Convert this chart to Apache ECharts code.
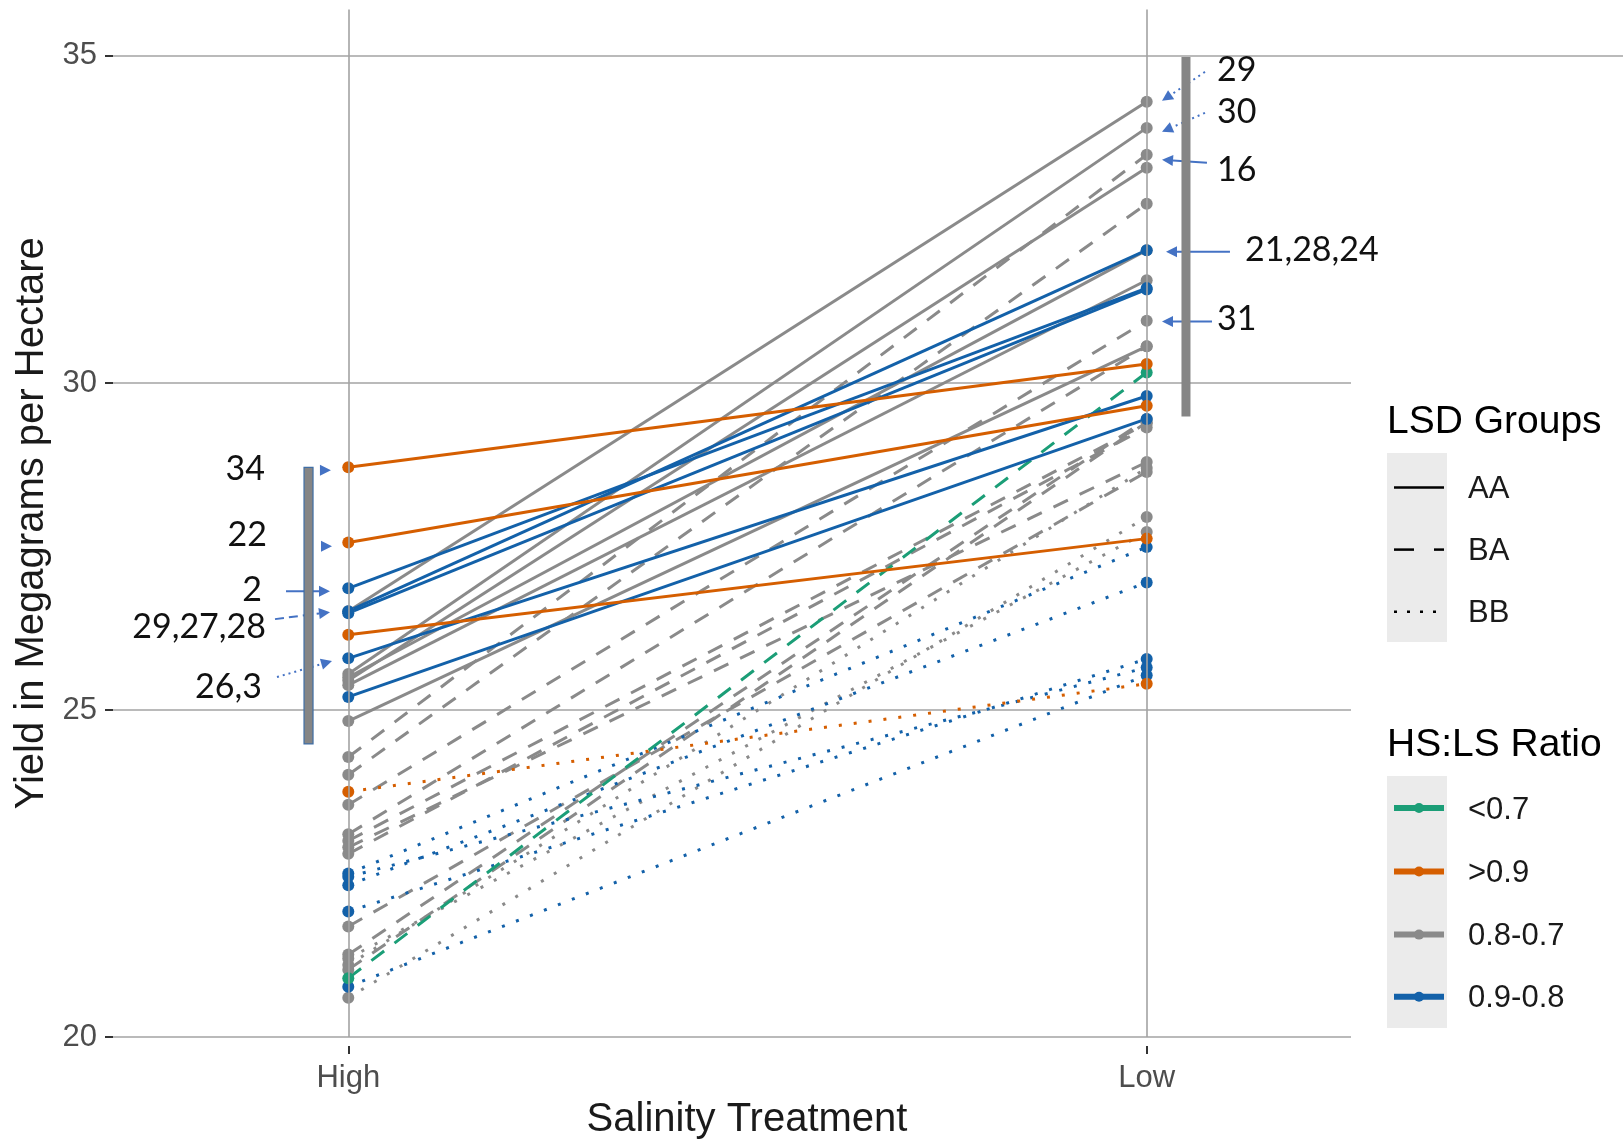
<!DOCTYPE html>
<html><head><meta charset="utf-8">
<script src="https://cdn.jsdelivr.net/npm/echarts@6/dist/echarts.min.js"></script>
<style>html,body{margin:0;padding:0;background:#fff}#c{width:1623px;height:1145px}</style>
</head><body><div id="c"></div>
<script>
// ---------------- data ----------------
const categories = ['High', 'Low'];
const yTicks = [20, 25, 30, 35];
const ratioLevels = ['<0.7', '>0.9', '0.8-0.7', '0.9-0.8'];
const lsdLevels = ['AA', 'BA', 'BB'];

// one entry per genotype line (drawn in this order)
const highYield = [
  26.51, 25.55, 25.45, 25.38, 24.83, 25.50,
  24.28, 24.01, 23.55, 23.10, 23.00, 22.90, 22.80, 21.69, 21.26, 21.03,
  20.60, 21.10, 21.20,
  22.50, 22.32, 21.92, 22.45, 20.77,
  23.75,
  20.90,
  26.86, 26.51, 26.48, 25.79, 25.20,
  28.71, 27.56, 26.15
];
const lowYield = [
  34.30, 33.90, 33.29, 31.57, 30.56, 32.03,
  33.49, 32.74, 30.95, 30.56, 29.38, 28.79, 29.32, 28.64, 29.45, 29.40,
  27.95, 28.70, 27.72,
  27.49, 26.95, 25.78, 25.65, 25.53,
  25.40,
  30.16,
  31.45, 32.03, 31.43, 29.80, 29.45,
  30.29, 29.65, 27.62
];
const ratioGroup = [
  '0.8-0.7','0.8-0.7','0.8-0.7','0.8-0.7','0.8-0.7','0.8-0.7',
  '0.8-0.7','0.8-0.7','0.8-0.7','0.8-0.7','0.8-0.7','0.8-0.7','0.8-0.7','0.8-0.7','0.8-0.7','0.8-0.7',
  '0.8-0.7','0.8-0.7','0.8-0.7',
  '0.9-0.8','0.9-0.8','0.9-0.8','0.9-0.8','0.9-0.8',
  '>0.9',
  '<0.7',
  '0.9-0.8','0.9-0.8','0.9-0.8','0.9-0.8','0.9-0.8',
  '>0.9','>0.9','>0.9'
];
const lsdGroup = [
  'AA','AA','AA','AA','AA','AA',
  'BA','BA','BA','BA','BA','BA','BA','BA','BA','BA',
  'BB','BB','BB',
  'BB','BB','BB','BB','BB',
  'BB',
  'BA',
  'AA','AA','AA','AA','AA',
  'AA','AA','AA'
];

// annotations (in data units of the chart)
const annoLabels = [
  ['34', 0.8957, 28.679, 'right'],
  ['22', 0.8982, 27.672, 'right'],
  ['2', 0.8919, 26.832, 'right'],
  ['29,27,28', 0.8969, 26.267, 'right'],
  ['26,3', 0.8919, 25.351, 'right'],
  ['29', 2.0881, 34.786, 'left'],
  ['30', 2.0881, 34.145, 'left'],
  ['16', 2.0881, 33.260, 'left'],
  ['21,28,24', 2.1231, 32.038, 'left'],
  ['31', 2.0881, 30.985, 'left']
];
const annoArrows = [
  [0.966, 28.664, 0.9783, 28.664, 'solid'],
  [0.966, 27.504, 0.9796, 27.504, 'solid'],
  [0.9220, 26.817, 0.9771, 26.817, 'solid'],
  [0.9082, 26.389, 0.9771, 26.496, 'dashed'],
  [0.9107, 25.504, 0.9796, 25.748, 'dotted'],
  [2.0730, 34.756, 2.0192, 34.313, 'dotted'],
  [2.0730, 34.130, 2.0192, 33.840, 'dotted'],
  [2.0755, 33.366, 2.0192, 33.412, 'solid'],
  [2.1043, 32.008, 2.0242, 32.008, 'solid'],
  [2.0818, 30.939, 2.0192, 30.939, 'solid']
];
const lsdBars = [
  [0.9502, 24.481, 28.710, '#3f6ea5'],
  [2.0492, 29.489, 34.985, null]
];

// ---------------- styles ----------------
const ratioColor = {'<0.7': '#1b9e77', '>0.9': '#d55e00', '0.8-0.7': '#8a8a8a', '0.9-0.8': '#1361a9'};
const lsdDash = {'AA': 'solid', 'BA': [16, 13], 'BB': [3, 12]};
const xMin = 0.7053, xMax = 2.2559, yMin = 20, yMax = 35.71;
const sans = '"Liberation Sans", Arial, sans-serif';
const gridColor = '#a3a3a3';

const series = highYield.map((h, i) => {
  const c = ratioColor[ratioGroup[i]];
  return {
    type: 'line', name: ratioGroup[i],
    data: [[1, h], [2, lowYield[i]]],
    symbol: 'circle', symbolSize: 12, showSymbol: true,
    lineStyle: {color: c, width: 3, type: lsdDash[lsdGroup[i]]},
    itemStyle: {color: c},
    emphasis: {disabled: true}, silent: true, z: 3
  };
});
// vertical grid lines at the two treatments
series.unshift({
  type: 'scatter', data: categories.map((c, i) => [i + 1, yMin]), symbolSize: 0, silent: true, z: 1,
  markLine: {
    symbol: 'none', silent: true, animation: false, label: {show: false},
    lineStyle: {color: gridColor, width: 1.6, type: 'solid'},
    data: categories.map((c, i) => ({xAxis: i + 1}))
  }
});

const chart = echarts.init(document.getElementById('c'));
chart.setOption({
  animation: false,
  backgroundColor: '#ffffff',
  grid: {left: 113, right: 272, top: 9.5, bottom: 106.5},
  xAxis: {
    type: 'value', min: xMin, max: xMax, offset: 9,
    name: 'Salinity Treatment', nameLocation: 'middle', nameGap: 54,
    nameTextStyle: {fontFamily: sans, fontSize: 40, color: '#1a1a1a', padding: [0, 0, 0, 30]},
    axisLine: {show: false},
    axisTick: {show: true, length: 8, customValues: [1, 2], lineStyle: {color: '#333', width: 2}},
    axisLabel: {customValues: [1, 2], margin: 17, fontFamily: sans, fontSize: 31, color: '#4d4d4d',
      formatter: v => categories[Math.round(v) - 1] || ''},
    splitLine: {show: false}
  },
  yAxis: {
    type: 'value', min: yMin, max: yMax, interval: 5,
    name: 'Yield in Megagrams per Hectare', nameLocation: 'middle', nameGap: 58,
    nameTextStyle: {fontFamily: sans, fontSize: 40, color: '#1a1a1a'},
    axisLine: {show: false},
    axisTick: {show: true, length: 8, customValues: yTicks, lineStyle: {color: '#333', width: 2}},
    axisLabel: {customValues: yTicks, margin: 16, fontFamily: sans, fontSize: 31, color: '#4d4d4d',
      formatter: v => (yTicks.indexOf(v) >= 0 ? String(v) : '')},
    splitLine: {show: true, showMaxLine: false, lineStyle: {color: gridColor, width: 1.5}}
  },
  series: series
});

// ---------------- annotations & legends ----------------
const P = (x, y) => chart.convertToPixel({gridIndex: 0}, [x, y]);
const g = [];
const blue = '#4472c4';
const dashMap = {solid: null, dashed: [9, 5], dotted: [2, 4]};

// the top (35) grid line runs across the whole picture
const e0 = P(xMin, yTicks[yTicks.length - 1]);
g.push({type: 'line', shape: {x1: e0[0], y1: e0[1], x2: 1623, y2: e0[1]}, style: {stroke: gridColor, lineWidth: 1.5}, z: 1});

annoArrows.forEach(a => {
  const p1 = P(a[0], a[1]), p2 = P(a[2], a[3]);
  const dx = p2[0] - p1[0], dy = p2[1] - p1[1], L = Math.hypot(dx, dy) || 1;
  const ux = dx / L, uy = dy / L, nx = -uy, ny = ux;
  const hl = 11, hw = 5.5;
  const bx = p2[0] - ux * hl, by = p2[1] - uy * hl;
  if (L > hl + 1) {
    g.push({type: 'line', shape: {x1: p1[0], y1: p1[1], x2: bx, y2: by},
      style: {stroke: blue, lineWidth: 2, lineDash: dashMap[a[4]]}, z: 10});
  }
  g.push({type: 'polygon', shape: {points: [[p2[0], p2[1]], [bx + nx * hw, by + ny * hw], [bx - nx * hw, by - ny * hw]]},
    style: {fill: blue}, z: 10});
});
lsdBars.forEach(b => {
  const t = P(b[0], b[2]), bt = P(b[0], b[1]);
  g.push({type: 'rect', shape: {x: t[0] - 4.5, y: t[1], width: 9, height: bt[1] - t[1]},
    style: {fill: '#858585', stroke: b[3] || null, lineWidth: b[3] ? 1.2 : 0}, z: 11});
});
annoLabels.forEach(l => {
  const p = P(l[1], l[2]);
  g.push({type: 'text', x: p[0], y: p[1], z: 12,
    style: {text: l[0], font: '34px Lato, "Open Sans", sans-serif', fill: '#111', align: l[3], verticalAlign: 'middle'}});
});

// legend: LSD Groups
const lgX = 1387, keyX1 = 1394, keyX2 = 1444, labX = 1468;
g.push({type: 'text', x: lgX, y: 422, style: {text: 'LSD Groups', font: '39px ' + sans, fill: '#000', align: 'left', verticalAlign: 'middle'}});
g.push({type: 'rect', shape: {x: lgX, y: 453, width: 60, height: 189}, style: {fill: '#ebebeb'}});
const lsdRowY = [487.5, 549.6, 611.7];
const lsdKeyDash = {AA: null, BA: [20, 20], BB: [3, 10]};
lsdLevels.forEach((lv, i) => {
  g.push({type: 'line', shape: {x1: keyX1, y1: lsdRowY[i], x2: keyX2, y2: lsdRowY[i]},
    style: {stroke: '#000', lineWidth: 2.5, lineDash: lsdKeyDash[lv]}});
  g.push({type: 'text', x: labX, y: lsdRowY[i] + 2, style: {text: lv, font: '31px ' + sans, fill: '#1a1a1a', align: 'left', verticalAlign: 'middle'}});
});
// legend: HS:LS Ratio
g.push({type: 'text', x: lgX, y: 745, style: {text: 'HS:LS Ratio', font: '39px ' + sans, fill: '#000', align: 'left', verticalAlign: 'middle'}});
g.push({type: 'rect', shape: {x: lgX, y: 776, width: 60, height: 252}, style: {fill: '#ebebeb'}});
const ratioRowY = [808, 871.5, 934.6, 996.7];
ratioLevels.forEach((lv, i) => {
  const c = ratioColor[lv];
  g.push({type: 'line', shape: {x1: keyX1, y1: ratioRowY[i], x2: keyX2, y2: ratioRowY[i]}, style: {stroke: c, lineWidth: 6}});
  g.push({type: 'circle', shape: {cx: (keyX1 + keyX2) / 2, cy: ratioRowY[i], r: 5}, style: {fill: c}});
  g.push({type: 'text', x: labX, y: ratioRowY[i] + 2, style: {text: lv, font: '31px ' + sans, fill: '#1a1a1a', align: 'left', verticalAlign: 'middle'}});
});

chart.setOption({graphic: g});
</script>
</body></html>
